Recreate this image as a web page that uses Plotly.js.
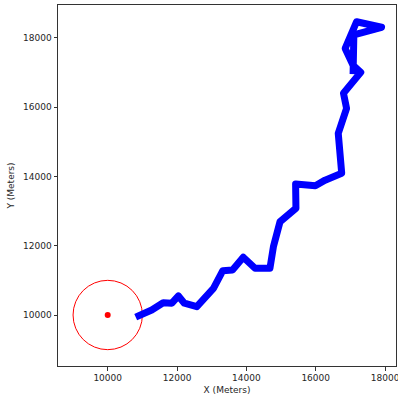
<!DOCTYPE html>
<html>
<head>
<meta charset="utf-8">
<script src="https://cdn.plot.ly/plotly-3.0.1.min.js"></script>
<style>
html,body{margin:0;padding:0;background:#fff;}
#chart{width:398px;height:398px;}
.scatterlayer path.js-line{stroke-linejoin:round;stroke-linecap:square;}
</style>
</head>
<body>
<div id="chart"></div>
<script>
// Path (meters)
const pathX = [10900, 11270, 11600, 11850, 12040, 12210, 12570, 12760, 13050, 13320, 13600, 13910, 14250, 14680, 14780, 14970, 15430, 15420, 15990, 16270, 16750, 16650, 16890, 16800, 17300, 17080, 16850, 17180, 17900, 17100, 17080];
const pathY = [9980, 10145, 10355, 10340, 10550, 10340, 10240, 10480, 10770, 11280, 11300, 11665, 11350, 11350, 11970, 12690, 13080, 13780, 13730, 13890, 14090, 15240, 15960, 16400, 17000, 17200, 17690, 18460, 18300, 18080, 17050];
// Target
const targetX = [10000];
const targetY = [10000];
const targetRadius = 1000;
// Ticks
const xTicks = [10000, 12000, 14000, 16000, 18000];
const yTicks = [10000, 12000, 14000, 16000, 18000];
const xRange = [8566, 18316];
const yRange = [8529, 18943];

const font = {family: 'DejaVu Sans', size: 9, color: '#262626'};

const traces = [
  {x: pathX, y: pathY, mode: 'lines', type: 'scatter',
   line: {color: '#0000ff', width: 7}, hoverinfo: 'skip'},
  {x: targetX, y: targetY, mode: 'markers', type: 'scatter',
   marker: {color: '#ff0000', size: 6}, hoverinfo: 'skip'}
];

const axisCommon = {
  showgrid: false, zeroline: false, showline: true, mirror: true,
  linecolor: '#333', linewidth: 1, ticks: 'outside', ticklen: 3.5,
  tickwidth: 1, tickcolor: '#333', tickfont: font, ticklabeloverflow: 'allow'
};

const layout = {
  width: 398, height: 398,
  margin: {l: 58, r: 2, t: 5, b: 32},
  paper_bgcolor: '#fff', plot_bgcolor: '#fff',
  showlegend: false,
  font: font,
  xaxis: Object.assign({}, axisCommon, {
    range: xRange, tickvals: xTicks, ticktext: xTicks.map(String),
    title: {text: 'X (Meters)', font: font, standoff: 4}
  }),
  yaxis: Object.assign({}, axisCommon, {
    range: yRange, tickvals: yTicks, ticktext: yTicks.map(String),
    title: {text: 'Y (Meters)', font: font, standoff: 6}
  }),
  shapes: [{
    type: 'circle', xref: 'x', yref: 'y',
    x0: targetX[0] - targetRadius, x1: targetX[0] + targetRadius,
    y0: targetY[0] - targetRadius, y1: targetY[0] + targetRadius,
    line: {color: '#ff0000', width: 1}, layer: 'below'
  }]
};

Plotly.newPlot('chart', traces, layout, {staticPlot: true, displayModeBar: false});
</script>
</body>
</html>
